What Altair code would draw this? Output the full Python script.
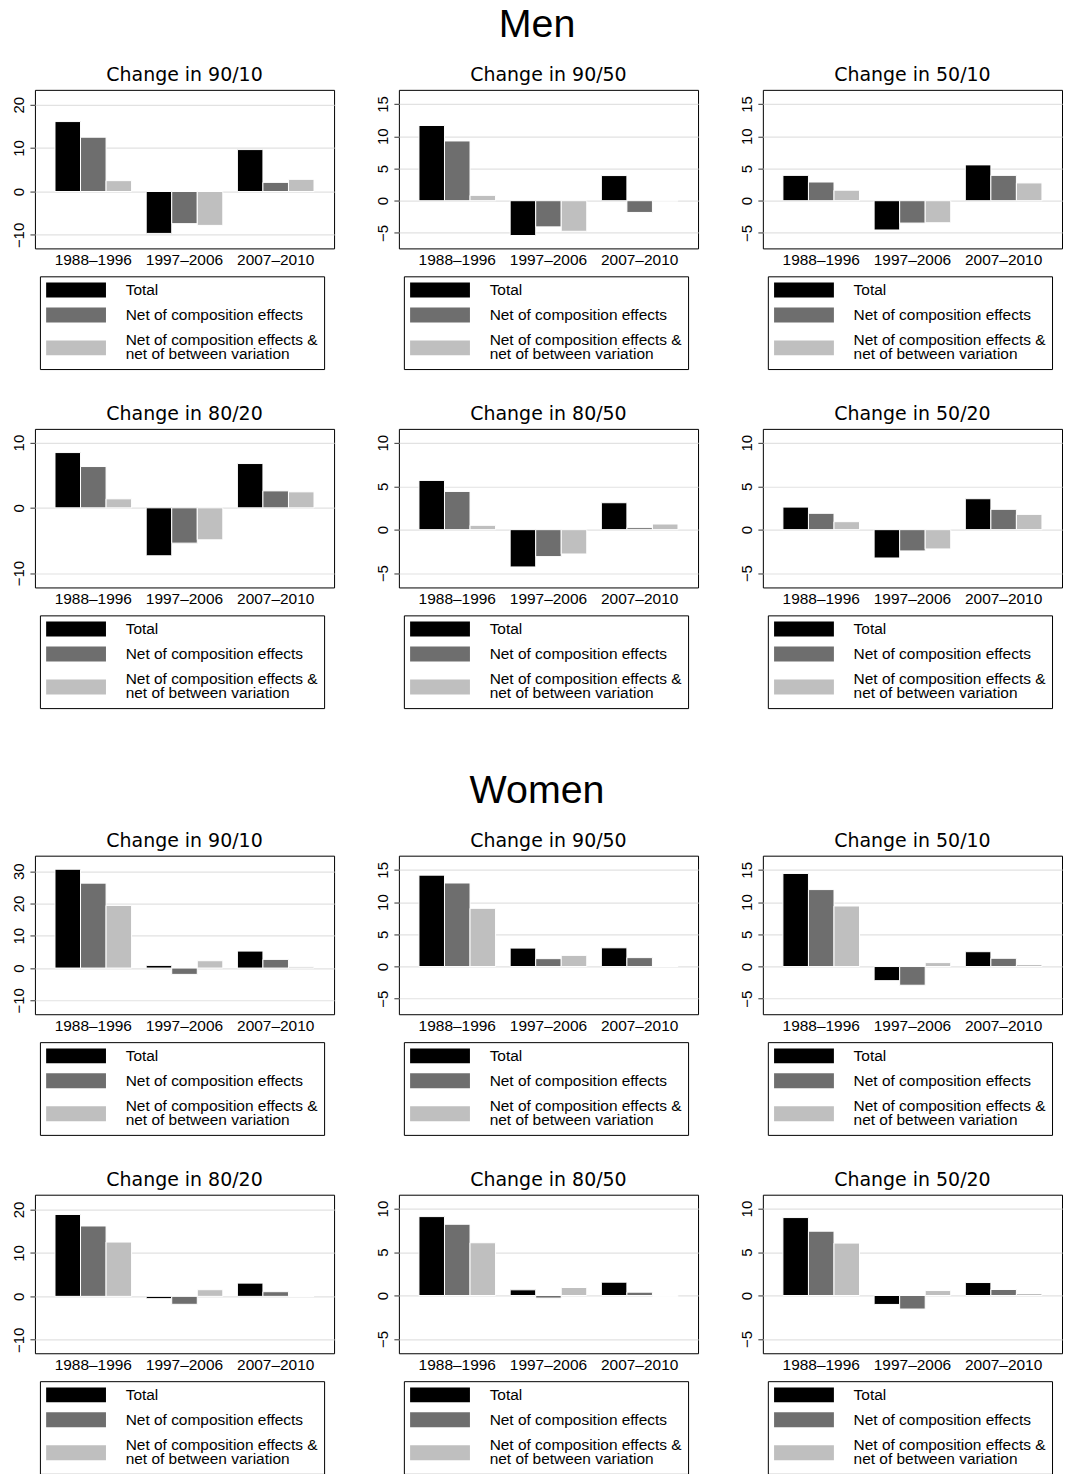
import altair as alt
import pandas as pd

periods = ["1988–1996", "1997–2006", "2007–2010"]
series = ["Total", "Net of composition effects",
          "Net of composition effects & net of between variation"]
colors = ["#000000", "#6e6e6e", "#bfbfbf"]

# values per panel: one list per series (Total, Net comp, Net comp & between), across periods
men_9010 = [[16.1, -9.65, 9.65], [12.5, -7.4, 2.1], [2.5, -7.8, 2.8]]
men_9050 = [[11.67, -5.4, 3.9], [9.27, -4.06, -1.82], [0.83, -4.74, -0.05]]
men_5010 = [[3.93, -4.54, 5.56], [2.9, -3.47, 3.93], [1.63, -3.42, 2.76]]
men_8020 = [[8.47, -7.35, 6.79], [6.33, -5.41, 2.6], [1.38, -4.9, 2.45]]
men_8050 = [[5.67, -4.29, 3.1], [4.4, -3.1, 0.23], [0.5, -2.8, 0.65]]
men_5020 = [[2.6, -3.26, 3.56], [1.88, -2.45, 2.34], [0.92, -2.22, 1.76]]
women_9010 = [[30.6, 0.82, 5.26], [26.3, -1.96, 2.68], [19.4, 2.27, 0.4]]
women_9050 = [[14.18, 2.86, 2.9], [12.96, 1.22, 1.38], [9.03, 1.73, 0.05]]
women_5010 = [[14.44, -2.19, 2.3], [11.94, -2.9, 1.28], [9.39, 0.61, 0.31]]
women_8020 = [[18.85, -0.53, 3.05], [16.2, -1.83, 1.07], [12.5, 1.53, 0.05]]
women_8050 = [[9.08, 0.65, 1.53], [8.2, -0.3, 0.38], [6.07, 0.92, -0.11]]
women_5020 = [[8.97, -1.03, 1.49], [7.4, -1.56, 0.69], [6.03, 0.57, 0.23]]

# axis ranges and tick values
dom_a = [-13.1, 23.4]; ticks_a = [-10, 0, 10, 20]
dom_b = [-7.4, 17.2]; ticks_b = [-5, 0, 5, 10, 15]
dom_c = [-12.2, 12.1]; ticks_c = [-10, 0, 10]
dom_d = [-6.65, 11.6]; ticks_d = [-5, 0, 5, 10]
dom_e = [-14.3, 34.8]; ticks_e = [-10, 0, 10, 20, 30]

W, H = 300, 159
FONT = "Liberation Sans"
NB = "\u00a0"


def panel(title, vals, domain, ticks):
    rows = []
    for s, v in zip(series, vals):
        for p, x in zip(periods, v):
            rows.append({"period": p, "series": s, "value": x})
    df = pd.DataFrame(rows)
    return alt.Chart(df).mark_bar(stroke="white", strokeWidth=1).encode(
        x=alt.X("period:N", sort=periods,
                scale=alt.Scale(paddingInner=0.16, paddingOuter=0.22),
                axis=alt.Axis(title=None, labelAngle=0, ticks=False, domain=False,
                              labelPadding=4, labelFontSize=15.5, labelFont=FONT,
                              labelColor="black", grid=False)),
        xOffset=alt.XOffset("series:N", sort=series,
                            scale=alt.Scale(paddingInner=0, paddingOuter=0)),
        y=alt.Y("value:Q", stack=None,
                scale=alt.Scale(domain=domain, nice=False),
                axis=alt.Axis(title=None, values=ticks, format="d", labelAngle=270,
                              labelAlign="center", labelBaseline="bottom",
                              ticks=True, tickSize=5, tickColor="#333333", tickWidth=1,
                              domain=False, labelPadding=3,
                              labelFontSize=15, labelFont=FONT, labelColor="black",
                              grid=True, gridColor="#e2e2e2", gridWidth=1.2)),
        color=alt.Color("series:N", sort=series,
                        scale=alt.Scale(domain=series, range=colors),
                        legend=alt.Legend(
                            title=None, orient="none", legendX=5, legendY=H + 28,
                            direction="vertical",
                            symbolType="M-4,-1H4V1H-4Z", symbolSize=225,
                            symbolStrokeWidth=0, symbolOffset=22.5, labelOffset=42,
                            labelFontSize=15.5, labelFont=FONT, labelColor="black",
                            labelLimit=400, rowPadding=8, padding=6,
                            strokeColor="black", fillColor="white",
                            labelBaseline=alt.ExprRef(
                                expr="indexof(datum.label, '&') >= 0 ? 'line-bottom' : 'middle'"),
                            labelExpr="split(replace(datum.label, '& ', '&" + NB * 7 + "|'), '|')")),
    ).properties(
        width=W, height=H,
        title=alt.TitleParams(title, fontSize=19, font="DejaVu Sans", fontWeight="normal",
                              frame="group", anchor="middle", offset=5, color="black"),
    )


def row(charts):
    return alt.hconcat(*charts, spacing=40).resolve_scale(
        color="independent").resolve_legend(color="independent")


def block(name, r1, r2):
    return alt.vconcat(r1, r2, spacing=34,
                       title=alt.TitleParams(name, fontSize=39.5, font=FONT,
                                             fontWeight="normal", anchor="middle",
                                             offset=20, color="black")
                       ).resolve_scale(color="independent").resolve_legend(color="independent")


men = block("Men",
            row([panel("Change in 90/10", men_9010, dom_a, ticks_a),
                 panel("Change in 90/50", men_9050, dom_b, ticks_b),
                 panel("Change in 50/10", men_5010, dom_b, ticks_b)]),
            row([panel("Change in 80/20", men_8020, dom_c, ticks_c),
                 panel("Change in 80/50", men_8050, dom_d, ticks_d),
                 panel("Change in 50/20", men_5020, dom_d, ticks_d)]))

women = block("Women",
              row([panel("Change in 90/10", women_9010, dom_e, ticks_e),
                   panel("Change in 90/50", women_9050, dom_b, ticks_b),
                   panel("Change in 50/10", women_5010, dom_b, ticks_b)]),
              row([panel("Change in 80/20", women_8020, dom_a, ticks_a),
                   panel("Change in 80/50", women_8050, dom_d, ticks_d),
                   panel("Change in 50/20", women_5020, dom_d, ticks_d)]))

chart = alt.vconcat(men, women, spacing=62).resolve_scale(
    color="independent").resolve_legend(color="independent").properties(
    padding={"left": 3, "top": -5, "right": 0, "bottom": 0}
).configure(font=FONT, style={"guide-label": {"lineHeight": 14}}).configure_view(
    stroke="black", strokeWidth=1)

chart.save("out.html", embed_options={"renderer": "svg", "actions": False})
